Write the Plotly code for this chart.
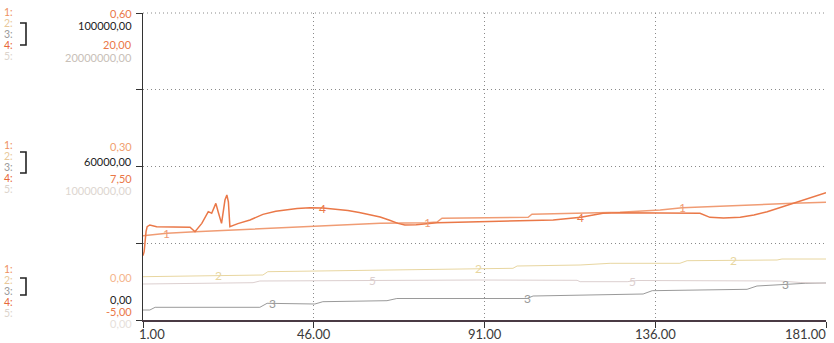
import numpy as np
import plotly.graph_objects as go

# ---------------- data ----------------
t1 = [1, 7.3, 14.7, 29.2, 63.5, 75.9, 78.5, 79.8, 102.5, 103.5, 126.7, 137.3, 143.1, 172.3, 181]
v1 = [0.1648, 0.1694, 0.1726, 0.1773, 0.1890, 0.1902, 0.1915, 0.1988, 0.2007, 0.2066,
      0.2105, 0.2150, 0.2195, 0.2281, 0.2300]

t2 = [1, 32.6, 33.9, 57.4, 59, 89, 98.5, 99.6, 116.2, 124.1, 142.5, 144.4, 168.1, 169.4, 181]
v2 = [31283, 31727, 32586, 32847, 33030, 33290, 33472, 34072, 34332, 34775, 34775, 35453,
      35635, 35896, 35896]

t3 = [1, 2.8, 4.2, 31.8, 33.7, 46.3, 48.4, 65.3, 67.9, 102.2, 103.8, 132.8, 135.2, 160.2,
      162.8, 170.2, 175.5, 181]
v3 = [22606, 22606, 23309, 23309, 24352, 24169, 24769, 25029, 25600, 25600, 26254, 26775,
      27635, 28000, 28860, 29251, 29564, 29642]

t4 = [1, 1.3, 1.8, 2.1, 2.8, 4.6, 13.4, 14.7, 16.5, 18.2, 19.1, 20.2, 20.8, 21.7, 22.6, 23.1,
      23.5, 23.9, 26, 29.2, 32.6, 36, 41.6, 45, 48.4, 52, 55, 58, 61, 63.5, 66, 68.2, 70, 73,
      78.5, 95, 109.1, 116.4, 122.2, 126.7, 147.8, 150.4, 154, 158.4, 162, 165.5, 172.3, 181]
v4 = [0.24, 0.56, 2.19, 2.60, 2.74, 2.60, 2.55, 2.19, 2.87, 3.82, 3.69, 4.50, 3.82, 2.87, 4.77,
      5.18, 4.63, 2.60, 2.85, 3.14, 3.60, 3.85, 4.08, 4.14, 4.12, 4.03, 3.92, 3.75, 3.55, 3.38,
      3.12, 2.87, 2.74, 2.76, 2.92, 3.02, 3.14, 3.36, 3.69, 3.74, 3.69, 3.36, 3.30, 3.36, 3.55,
      3.82, 4.50, 5.37]

t5 = [1, 30, 31.8, 89, 115.4, 116.2, 128.6, 131.2, 168.9, 174.2, 181]
v5 = [2.345e6, 2.430e6, 2.541e6, 2.606e6, 2.586e6, 2.495e6, 2.495e6, 2.573e6, 2.541e6,
      2.443e6, 2.391e6]

x_ticks = [1, 46, 91, 136, 181]
x_tick_text = ["1.00", "46.00", "91.00", "136.00", "181.00"]

lbl_t = {1: [7.3, 75.9, 143.1], 2: [20.8, 89.3, 156.5], 3: [35, 102.2, 170.2],
         4: [48.4, 116.4], 5: [61.6, 129.9]}

scale_top = ["0,60", "100000,00", "20,00", "20000000,00"]
scale_mid = ["0,30", "60000,00", "7,50", "10000000,00"]
scale_bot = ["0,00", "0,00", "-5,00", "0,00"]

# ---------------- style ----------------
C1 = "#F09C74"
C2 = "#E8D6A0"
C3 = "#9A9A9A"
C4 = "#EA7848"
C5 = "#DCCFCF"
FONT = "Lato"

W, H = 834, 343
L, R, T, B = 143, 826, 13, 320
PW, PH = R - L, B - T


def px(x):
    return (x - L) / PW


def py(y):
    return (B - y) / PH


fig = go.Figure()
series = [
    (t2, v2, C2, "y2", 1.0),
    (t5, v5, C5, "y4", 1.0),
    (t3, v3, C3, "y2", 1.0),
    (t1, v1, C1, "y", 1.4),
    (t4, v4, C4, "y3", 1.5),
]
for t, v, c, ax, w in series:
    fig.add_trace(go.Scatter(x=t, y=v, mode="lines", yaxis=ax,
                             line=dict(color=c, width=w), hoverinfo="skip",
                             showlegend=False))

annotations = []
# labels along lines
lines_map = {1: (t1, v1, C1, "y"), 2: (t2, v2, C2, "y2"), 3: (t3, v3, C3, "y2"),
             4: (t4, v4, C4, "y3"), 5: (t5, v5, C5, "y4")}
for n, ts in lbl_t.items():
    t, v, c, ax = lines_map[n]
    for tt in ts:
        annotations.append(dict(x=tt, y=float(np.interp(tt, t, v)), xref="x", yref=ax,
                                text=str(n), showarrow=False,
                                font=dict(family=FONT, size=12, color=c),
                                xanchor="center", yanchor="middle"))

# x tick labels
for tv, tx in zip(x_ticks, x_tick_text):
    if tv == x_ticks[0]:
        xa, xs = "left", -6
    elif tv == x_ticks[-1]:
        xa, xs = "right", 2
    else:
        xa, xs = "center", 0
    annotations.append(dict(x=tv, y=py(334), xref="x", yref="paper", text=tx,
                            showarrow=False, xanchor=xa, xshift=xs, yanchor="middle",
                            font=dict(family=FONT, size=13, color="#3a3a3a")))

# scale labels on the left
scale_cols = [
    (scale_top, [13, 25, 44, 57.5], [C4, "#222222", C4, "#C8C0B8"]),
    (scale_mid, [146, 161, 178, 190], ["#F0A070", "#222222", C4, "#DDD6D0"]),
    (scale_bot, [277, 299, 311, 323], ["#F4B48C", "#222222", C4, "#E6E0DA"]),
]
for texts, ys, cols in scale_cols:
    for tx, yy, cc in zip(texts, ys, cols):
        annotations.append(dict(x=px(134), y=py(yy), xref="paper", yref="paper", text=tx,
                                showarrow=False, xanchor="right", yanchor="middle",
                                font=dict(family=FONT, size=11, color=cc)))

# key column 1:..5:
key_cols = ["#EE9060", "#E8C89A", "#9A9A9A", "#E8683A", "#DCD4CC"]
for ys in ([12, 23, 34, 45, 56], [145, 156, 167, 178, 189], [269, 280, 291, 302, 313]):
    for i, yy in enumerate(ys):
        annotations.append(dict(x=px(2), y=py(yy), xref="paper", yref="paper",
                                text=f"{i + 1}:", showarrow=False, xanchor="left",
                                yanchor="middle",
                                font=dict(family=FONT, size=10.5, color=key_cols[i])))

shapes = []
for y0, y1 in ((23, 45), (152, 173), (278, 295)):
    path = (f"M {px(20)},{py(y0)} L {px(26)},{py(y0)} L {px(26)},{py(y1)} "
            f"L {px(20)},{py(y1)}")
    shapes.append(dict(type="path", xref="paper", yref="paper", path=path,
                       line=dict(color="#222222", width=1.6)))
# dotted top frame
shapes.append(dict(type="line", xref="paper", yref="paper", x0=0, x1=1, y0=1, y1=1,
                   line=dict(color="#8a8a8a", width=1, dash="1px,3px")))

fig.update_layout(
    width=W, height=H,
    margin=dict(l=L, r=W - R, t=T, b=H - B),
    paper_bgcolor="white", plot_bgcolor="white",
    showlegend=False,
    annotations=annotations, shapes=shapes,
    xaxis=dict(range=[1, 181], tickvals=x_ticks, showticklabels=False,
               showgrid=True, gridcolor="#8a8a8a", griddash="1px,3px", gridwidth=1,
               showline=True, linecolor="#4a3a44", linewidth=1.5,
               ticks="outside", ticklen=6, tickcolor="#333333", zeroline=False),
    yaxis=dict(range=[0, 0.6], tickvals=[0, 0.15, 0.3, 0.45, 0.6], showticklabels=False,
               showgrid=True, gridcolor="#8a8a8a", griddash="1px,3px", gridwidth=1,
               showline=True, linecolor="#333333", linewidth=1.3,
               ticks="outside", ticklen=6, tickcolor="#333333", zeroline=False),
    yaxis2=dict(range=[20000, 100000], overlaying="y", visible=False),
    yaxis3=dict(range=[-5, 20], overlaying="y", visible=False),
    yaxis4=dict(range=[0, 20000000], overlaying="y", visible=False),
    font=dict(family=FONT),
)

fig.write_html("out.html")
